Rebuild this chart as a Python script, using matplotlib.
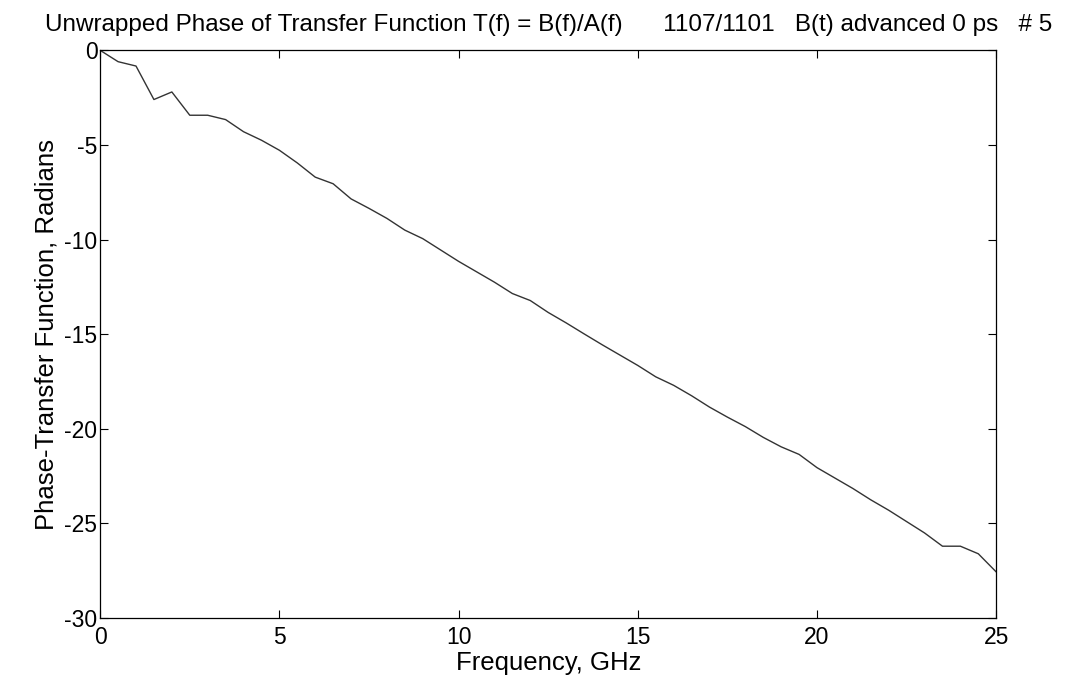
import matplotlib.pyplot as plt
import numpy as np

# unwrapped phase of T(f) = B(f)/A(f), sampled every 0.5 GHz
freq_ghz = np.arange(0, 25.01, 0.5)
phase_rad = [0.0, -0.6, -0.83, -2.6, -2.2, -3.43, -3.43, -3.66, -4.3, -4.75,
             -5.28, -5.95, -6.7, -7.05, -7.85, -8.35, -8.88, -9.5, -9.95, -10.55,
             -11.15, -11.7, -12.25, -12.85, -13.22, -13.85, -14.4, -14.98, -15.55, -16.1,
             -16.65, -17.25, -17.7, -18.25, -18.85, -19.38, -19.88, -20.45, -20.95, -21.35,
             -22.05, -22.6, -23.15, -23.75, -24.3, -24.9, -25.5, -26.2, -26.2, -26.6,
             -27.56]

x_ticks = [0, 5, 10, 15, 20, 25]
y_ticks = [0, -5, -10, -15, -20, -25, -30]

plt.rcParams['font.family'] = ['Liberation Sans', 'DejaVu Sans']
plt.rcParams['axes.unicode_minus'] = False

fig = plt.figure(figsize=(10.77, 6.8), dpi=100)
ax = fig.add_axes([0.093, 0.091, 0.832, 0.835])

ax.plot(freq_ghz, phase_rad, color='#333333', linewidth=1.0)

ax.set_xlim(0, 25)
ax.set_ylim(-30, 0)
ax.set_xticks(x_ticks)
ax.set_yticks(y_ticks)
ax.tick_params(direction='in', top=True, right=True, length=6, width=0.8,
               labelsize=16.5)
ax.tick_params(axis='x', pad=6)
ax.tick_params(axis='y', pad=2)
for spine in ax.spines.values():
    spine.set_linewidth(0.9)

ax.set_xlabel('Frequency, GHz', fontsize=18.5, labelpad=1)
ax.set_ylabel('Phase-Transfer Function, Radians', fontsize=18.5, labelpad=4)
ax.set_title('Unwrapped Phase of Transfer Function T(f) = B(f)/A(f)      1107/1101   B(t) advanced 0 ps   # 5',
             fontsize=17.5, pad=14, loc='center')

fig.savefig('out.png', dpi=100)
